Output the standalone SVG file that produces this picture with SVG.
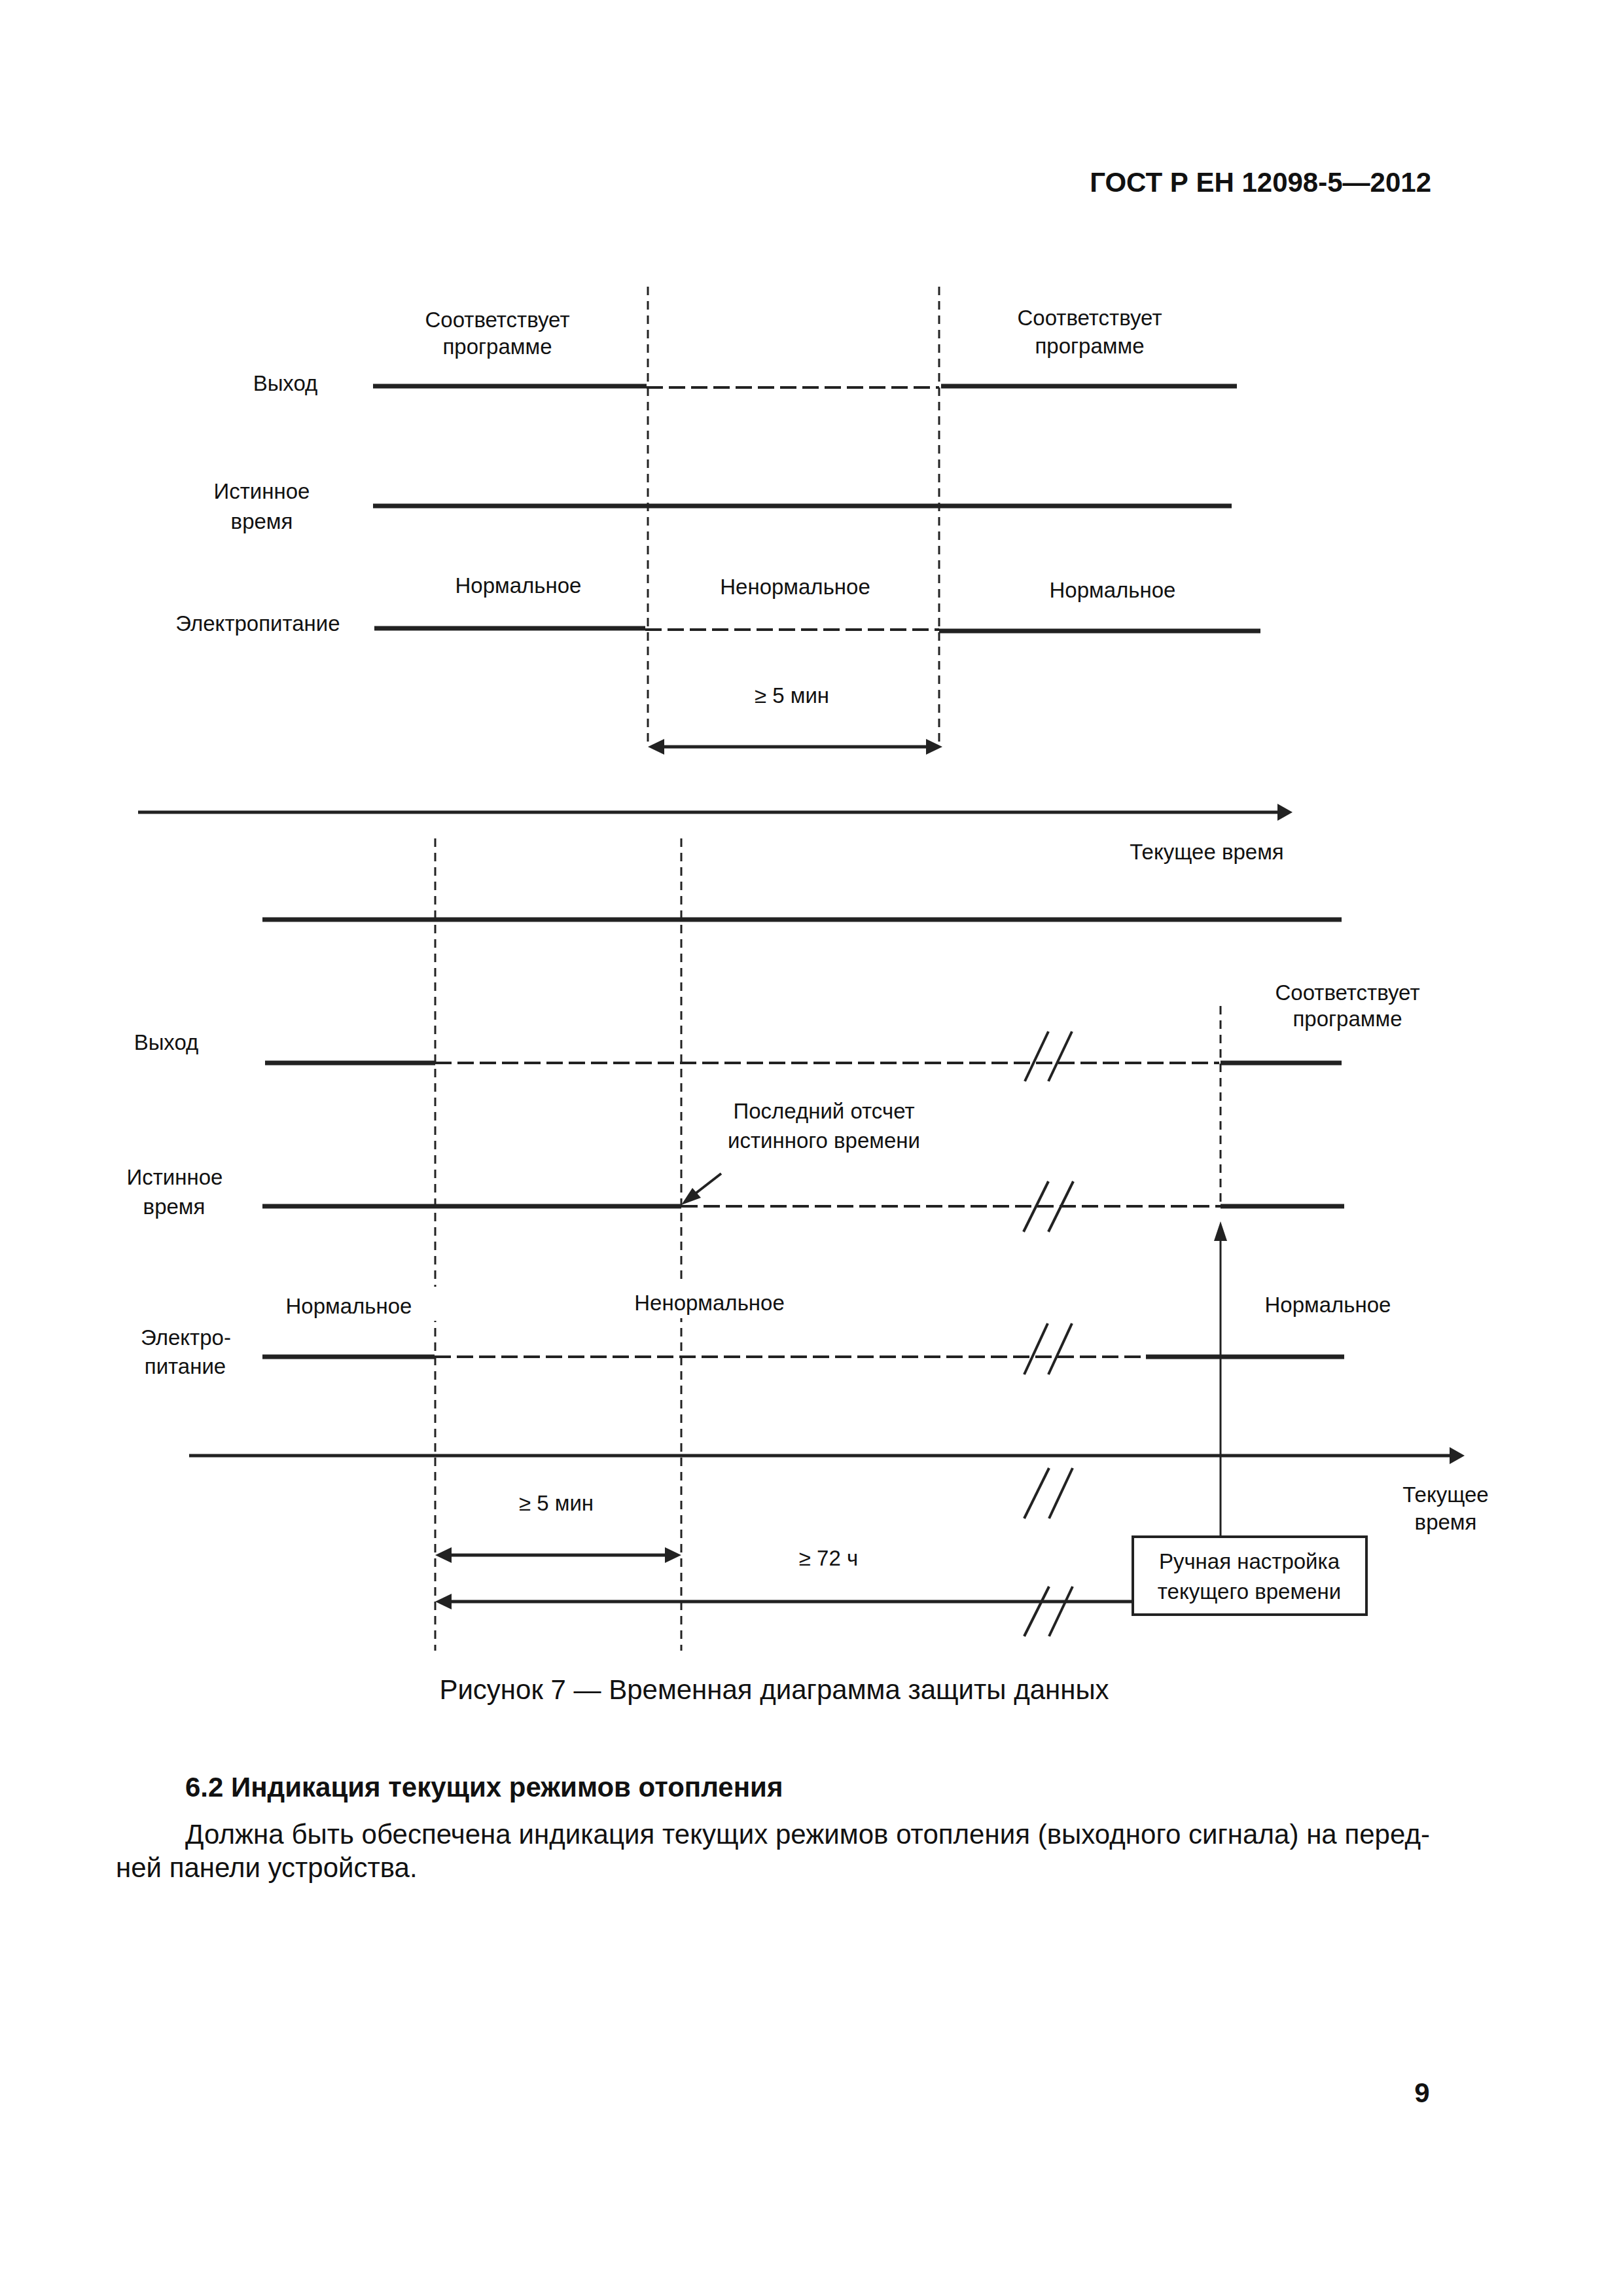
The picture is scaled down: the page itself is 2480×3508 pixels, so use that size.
<svg xmlns="http://www.w3.org/2000/svg" width="2480" height="3508" viewBox="0 0 2480 3508">
<style>
text{font-family:"Liberation Sans",Arial,sans-serif;fill:#111}
.lb{font-size:33px;text-anchor:middle}
.pg{font-size:42px}
.b{font-weight:bold}
.sig{stroke:#222;stroke-width:7;fill:none}
.dsig{stroke:#222;stroke-width:4;stroke-dasharray:25 9;fill:none}
.vd{stroke:#222;stroke-width:3;stroke-dasharray:13 9;fill:none}
.ln{stroke:#222;stroke-width:5;fill:none}
.th{stroke:#222;stroke-width:3;fill:none}
.brk{stroke:#222;stroke-width:4;fill:none}
.ah{fill:#222;stroke:none}
.mask{fill:#fff;stroke:none}
</style>
<rect width="2480" height="3508" fill="#fff"/>

<g id="page-text">
<text class="pg b" x="2187" y="293" text-anchor="end">ГОСТ Р ЕН 12098-5—2012</text>
<text class="pg" x="1183" y="2596" text-anchor="middle">Рисунок 7 — Временная диаграмма защиты данных</text>
<text class="pg b" x="283" y="2745">6.2 Индикация текущих режимов отопления</text>
<text class="pg" x="283" y="2817" textLength="1902" lengthAdjust="spacing">Должна быть обеспечена индикация текущих режимов отопления (выходного сигнала) на перед-</text>
<text class="pg" x="177" y="2868">ней панели устройства.</text>
<text class="pg b" x="2173" y="3212" text-anchor="middle">9</text>
</g>

<!-- Top diagram -->
<g id="top-labels">
<text class="lb" x="760" y="500">Соответствует</text>
<text class="lb" x="760" y="541">программе</text>
<text class="lb" x="1665" y="497">Соответствует</text>
<text class="lb" x="1665" y="540">программе</text>
<text class="lb" x="436" y="597">Выход</text>
<text class="lb" x="400" y="762">Истинное</text>
<text class="lb" x="400" y="808">время</text>
<text class="lb" x="394" y="964">Электропитание</text>
<text class="lb" x="792" y="906">Нормальное</text>
<text class="lb" x="1215" y="908">Ненормальное</text>
<text class="lb" x="1700" y="913">Нормальное</text>
<text class="lb" x="1210" y="1074">≥ 5 мин</text>
<text class="lb" x="1844" y="1313">Текущее время</text>
</g>

<g id="top-signals">
<line class="vd" x1="990" y1="438" x2="990" y2="1140"/>
<line class="vd" x1="1435" y1="438" x2="1435" y2="1140"/>
<line class="sig" x1="570" y1="590" x2="988" y2="590"/>
<line class="dsig" x1="988" y1="592" x2="1435" y2="592"/>
<line class="sig" x1="1438" y1="590" x2="1890" y2="590"/>
<line class="sig" x1="570" y1="773" x2="1882" y2="773"/>
<line class="sig" x1="572" y1="960" x2="986" y2="960"/>
<line class="dsig" x1="986" y1="962" x2="1435" y2="962"/>
<line class="sig" x1="1435" y1="964" x2="1926" y2="964"/>
</g>

<g id="connectors">
<line class="ln" x1="1010" y1="1141" x2="1418" y2="1141"/>
<polygon class="ah" points="990,1141 1015,1129 1015,1153"/>
<polygon class="ah" points="1440,1141 1415,1129 1415,1153"/>
<line class="ln" x1="211" y1="1241" x2="1955" y2="1241"/>
<polygon class="ah" points="1952,1228 1975,1241 1952,1254"/>
<line class="ln" x1="289" y1="2224" x2="2218" y2="2224"/>
<polygon class="ah" points="2215,2211 2238,2224 2215,2237"/>
<line class="brk" x1="1102" y1="1793" x2="1062" y2="1824"/>
<polygon class="ah" points="1041,1841 1071,1830 1058,1815"/>
<line class="th" x1="1865" y1="2348" x2="1865" y2="1890"/>
<polygon class="ah" points="1865,1866 1855,1896 1875,1896"/>
<line class="ln" x1="685" y1="2376" x2="1021" y2="2376"/>
<polygon class="ah" points="665,2376 690,2364 690,2388"/>
<polygon class="ah" points="1041,2376 1016,2364 1016,2388"/>
<line class="ln" x1="685" y1="2447" x2="1731" y2="2447"/>
<polygon class="ah" points="665,2447 690,2435 690,2459"/>
</g>

<g id="bottom-signals">
<line class="vd" x1="665" y1="1281" x2="665" y2="2522"/>
<line class="vd" x1="1041" y1="1281" x2="1041" y2="2522"/>
<line class="vd" x1="1865" y1="1537" x2="1865" y2="1845"/>
<line class="sig" x1="401" y1="1405" x2="2050" y2="1405"/>
<line class="sig" x1="405" y1="1624" x2="665" y2="1624"/>
<line class="dsig" x1="665" y1="1624" x2="1863" y2="1624"/>
<line class="sig" x1="1865" y1="1624" x2="2050" y2="1624"/>
<line class="sig" x1="401" y1="1843" x2="1041" y2="1843"/>
<line class="dsig" x1="1041" y1="1843" x2="1865" y2="1843"/>
<line class="sig" x1="1865" y1="1843" x2="2054" y2="1843"/>
<line class="sig" x1="401" y1="2073" x2="664" y2="2073"/>
<line class="dsig" x1="664" y1="2073" x2="1752" y2="2073"/>
<line class="sig" x1="1751" y1="2073" x2="2054" y2="2073"/>
</g>

<g id="bottom-labels">
<rect class="mask" x="655" y="1966" width="20" height="52"/>
<rect class="mask" x="1031" y="1962" width="20" height="52"/>
<text class="lb" x="254" y="1604">Выход</text>
<text class="lb" x="2059" y="1528">Соответствует</text>
<text class="lb" x="2059" y="1568">программе</text>
<text class="lb" x="1259" y="1709">Последний отсчет</text>
<text class="lb" x="1259" y="1754">истинного времени</text>
<text class="lb" x="267" y="1810">Истинное</text>
<text class="lb" x="266" y="1855">время</text>
<text class="lb" x="533" y="2007">Нормальное</text>
<text class="lb" x="1084" y="2002">Ненормальное</text>
<text class="lb" x="2029" y="2005">Нормальное</text>
<text class="lb" x="284" y="2055">Электро-</text>
<text class="lb" x="283" y="2099">питание</text>
<text class="lb" x="2209" y="2295">Текущее</text>
<text class="lb" x="2209" y="2337">время</text>
<text class="lb" x="850" y="2308">≥ 5 мин</text>
<text class="lb" x="1266" y="2392">≥ 72 ч</text>
</g>

<g id="breaks">
<line class="brk" x1="1602" y1="1576" x2="1566" y2="1652"/>
<line class="brk" x1="1638" y1="1576" x2="1602" y2="1652"/>
<line class="brk" x1="1602" y1="1805" x2="1564" y2="1882"/>
<line class="brk" x1="1640" y1="1805" x2="1602" y2="1882"/>
<line class="brk" x1="1601" y1="2022" x2="1565" y2="2100"/>
<line class="brk" x1="1638" y1="2022" x2="1602" y2="2100"/>
<line class="brk" x1="1603" y1="2243" x2="1565" y2="2320"/>
<line class="brk" x1="1639" y1="2243" x2="1603" y2="2320"/>
<line class="brk" x1="1603" y1="2424" x2="1565" y2="2500"/>
<line class="brk" x1="1639" y1="2424" x2="1603" y2="2500"/>
</g>

<g id="node-manual">
<rect x="1731" y="2348" width="357" height="119" fill="#fff" stroke="#222" stroke-width="4"/>
<text class="lb" x="1909" y="2397">Ручная настройка</text>
<text class="lb" x="1909" y="2443">текущего времени</text>
</g>
</svg>
